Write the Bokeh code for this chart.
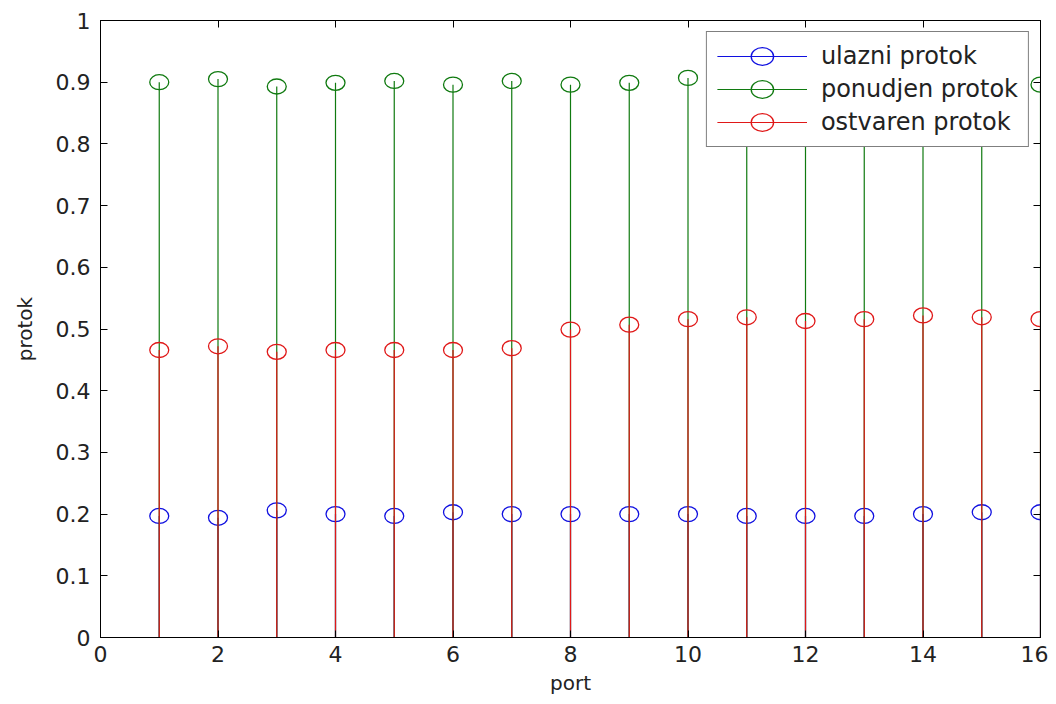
from bokeh.plotting import figure
from bokeh.models import (Range1d, FixedTicker, LinearAxis, Legend, LegendItem,
                          CustomJSTickFormatter, ColumnDataSource)
from bokeh.embed import file_html
from bokeh.resources import INLINE

# ---- data ----
ports = list(range(1, 17))
ulazni = [0.197, 0.194, 0.206, 0.200, 0.197, 0.203, 0.200, 0.200,
          0.200, 0.200, 0.197, 0.197, 0.197, 0.200, 0.203, 0.203]
ponudjen = [0.900, 0.905, 0.893, 0.899, 0.902, 0.896, 0.902, 0.896,
            0.899, 0.907, 0.900, 0.900, 0.900, 0.900, 0.900, 0.896]
ostvaren = [0.466, 0.472, 0.463, 0.466, 0.466, 0.466, 0.469, 0.499,
            0.507, 0.516, 0.519, 0.513, 0.516, 0.522, 0.519, 0.516]
series_names = ["ulazni protok", "ponudjen protok", "ostvaren protok"]
colors = ["#1010e0", "#107a10", "#e01818"]
x_ticks = [0, 2, 4, 6, 8, 10, 12, 14, 16]
y_ticks = [0, 0.1, 0.2, 0.3, 0.4, 0.5, 0.6, 0.7, 0.8, 0.9, 1.0]

FONT = "DejaVu Sans"

p = figure(width=1048, height=704, output_backend="svg", toolbar_location=None,
           x_range=Range1d(0, 16), y_range=Range1d(0, 1),
           min_border_left=100, min_border_right=8, min_border_top=20,
           min_border_bottom=67)
p.xgrid.visible = False
p.ygrid.visible = False
p.outline_line_color = "black"
p.outline_line_width = 1
p.background_fill_color = "white"
p.border_fill_color = "white"

fmt = CustomJSTickFormatter(code="return (Math.round(tick*10)/10).toString();")

for ax, ticks in ((p.xaxis[0], x_ticks), (p.yaxis[0], y_ticks)):
    ax.ticker = FixedTicker(ticks=ticks)
    ax.formatter = fmt
    ax.major_tick_in = 7
    ax.major_tick_out = 0
    ax.minor_tick_line_color = None
    ax.axis_line_color = "black"
    ax.major_tick_line_color = "black"
    ax.major_label_text_font = FONT
    ax.major_label_text_font_size = "22px"
    ax.major_label_text_color = "#222222"
    ax.axis_label_text_font = FONT
    ax.axis_label_text_font_size = "20px"
    ax.axis_label_text_font_style = "normal"
    ax.axis_label_text_color = "#222222"

p.xaxis[0].axis_label = "port"
p.yaxis[0].axis_label = "protok"
p.xaxis[0].major_label_standoff = 8
p.yaxis[0].major_label_standoff = 10
p.xaxis[0].axis_label_standoff = 6
p.yaxis[0].axis_label_standoff = 16

for loc, ticks in (("above", x_ticks), ("right", y_ticks)):
    ax = LinearAxis(ticker=FixedTicker(ticks=ticks), major_tick_in=7, major_tick_out=0,
                    minor_tick_line_color=None, major_label_text_font_size="0px",
                    major_label_text_alpha=0, axis_line_color="black")
    p.add_layout(ax, loc)

items = []
for name, vals, c in zip(series_names, [ulazni, ponudjen, ostvaren], colors):
    src = ColumnDataSource(dict(x=ports, y=vals, y0=[0] * len(ports)))
    seg = p.segment(x0="x", y0="y0", x1="x", y1="y", source=src,
                    line_color=c, line_width=1.2)
    circ = p.ellipse(x="x", y="y", width=19, height=15, width_units="screen",
                     height_units="screen", source=src,
                     fill_color=None, line_color=c, line_width=1.3)
    items.append(LegendItem(label=name, renderers=[seg, circ]))

legend = Legend(items=items, location="top_right", margin=11,
                label_text_font=FONT, label_text_font_size="24px",
                label_text_color="#222222",
                glyph_width=90, glyph_height=28, label_height=28,
                spacing=5, padding=10, label_standoff=14,
                border_line_color="black", border_line_width=1.5,
                background_fill_color="white", background_fill_alpha=1)
p.add_layout(legend)

open("out.html", "w").write(file_html(p, INLINE))
